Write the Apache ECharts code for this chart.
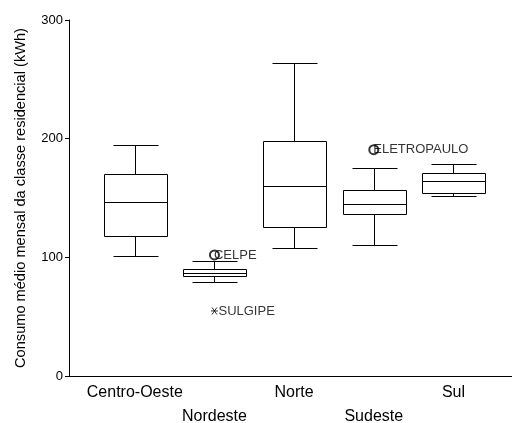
<!DOCTYPE html>
<html>
<head>
<meta charset="utf-8">
<script src="https://cdn.jsdelivr.net/npm/echarts@6/dist/echarts.min.js"></script>
<style>
  html, body { margin: 0; padding: 0; background: #fff; }
  #chart { width: 512px; height: 423px; }
</style>
</head>
<body>
<div id="chart"></div>
<script>
// Regions and their box-plot statistics (kWh)
const regions = ['Centro-Oeste', 'Nordeste', 'Norte', 'Sudeste', 'Sul'];
const lowerWhisker = [100.9, 79.4, 107.9, 110.6, 151.9];
const quartile1 = [117.9, 84.2, 125.6, 136.3, 154.4];
const medians = [146.9, 87.0, 160.1, 144.9, 164.1];
const quartile3 = [170.5, 90.2, 198.0, 156.7, 170.8];
const upperWhisker = [194.9, 96.9, 264.0, 175.5, 178.7];

// Outliers (circle) and extreme values (asterisk)
const outlierNames = ['CELPE', 'ELETROPAULO'];
const outlierRegion = [1, 3];
const outlierValues = [102.0, 190.7];
const extremeNames = ['SULGIPE'];
const extremeRegion = [1];
const extremeValues = [54.8];

const yTicks = [0, 100, 200, 300];

const FONT = '"Liberation Sans", Arial, sans-serif';
const INK = '#000';

const X_MIN = -0.826;
const X_MAX = 4.735;

const boxData = regions.map((r, i) => [i, lowerWhisker[i], quartile1[i], medians[i], quartile3[i], upperWhisker[i]]);

// category labels alternate between two rows under the axis
const upperRowIdx = regions.map((r, i) => i).filter(i => i % 2 === 0);
const lowerRowIdx = regions.map((r, i) => i).filter(i => i % 2 === 1);

function crisp(v) { return Math.round(v) + 0.5; }

function renderBox(params, api) {
  const x = api.value(0);
  const unit = api.size([1, 0])[0];
  const halfBox = unit * 0.4;
  const halfCap = unit * 0.285;
  const cx = crisp(api.coord([x, 0])[0]);
  const yLow = crisp(api.coord([x, api.value(1)])[1]);
  const yQ1 = crisp(api.coord([x, api.value(2)])[1]);
  const yMed = crisp(api.coord([x, api.value(3)])[1]);
  const yQ3 = crisp(api.coord([x, api.value(4)])[1]);
  const yHigh = crisp(api.coord([x, api.value(5)])[1]);
  const left = crisp(cx - halfBox);
  const right = crisp(cx + halfBox);
  const lineStyle = { stroke: INK, lineWidth: 1, fill: null };
  const line = (x1, y1, x2, y2) => ({ type: 'line', shape: { x1, y1, x2, y2 }, style: lineStyle });
  return {
    type: 'group',
    children: [
      { type: 'rect', shape: { x: left, y: yQ3, width: right - left, height: yQ1 - yQ3 }, style: { stroke: INK, lineWidth: 1, fill: '#fff' } },
      line(left, yMed, right, yMed),
      line(cx, yQ3, cx, yHigh),
      line(cx, yQ1, cx, yLow),
      line(crisp(cx - halfCap), yHigh, crisp(cx + halfCap), yHigh),
      line(crisp(cx - halfCap), yLow, crisp(cx + halfCap), yLow)
    ]
  };
}

function categoryAxis(indices, margin, showLine) {
  return {
    type: 'value',
    position: 'bottom',
    min: X_MIN,
    max: X_MAX,
    splitLine: { show: false },
    axisTick: { show: false },
    axisLine: { show: showLine, onZero: false, lineStyle: { color: INK, width: 1 } },
    axisLabel: {
      customValues: indices,
      formatter: (v) => regions[Math.round(v)],
      hideOverlap: false,
      color: INK,
      fontFamily: FONT,
      fontSize: 16,
      margin: margin
    }
  };
}

const chart = echarts.init(document.getElementById('chart'), null, { renderer: 'canvas' });

chart.setOption({
  animation: false,
  backgroundColor: '#fff',
  grid: { left: 69, right: 0, top: 20, bottom: 47, outerBoundsMode: 'none', containLabel: false },
  xAxis: [
    categoryAxis(upperRowIdx, 9, true),
    categoryAxis(lowerRowIdx, 33, false)
  ],
  yAxis: {
    type: 'value',
    min: yTicks[0],
    max: yTicks[yTicks.length - 1],
    interval: 100,
    splitLine: { show: false },
    axisLine: { show: true, onZero: false, lineStyle: { color: INK, width: 1 } },
    axisTick: { show: true, length: 4, lineStyle: { color: INK } },
    axisLabel: { color: INK, fontFamily: FONT, fontSize: 13, margin: 6 },
    name: 'Consumo médio mensal da classe residencial (kWh)',
    nameLocation: 'middle',
    nameGap: 41,
    nameTextStyle: { color: INK, fontFamily: FONT, fontSize: 14.6 }
  },
  series: [
    {
      type: 'custom',
      renderItem: renderBox,
      encode: { x: 0, y: [1, 2, 3, 4, 5] },
      data: boxData,
      z: 2
    },
    {
      type: 'scatter',
      symbol: 'emptyCircle',
      symbolSize: 9,
      itemStyle: { color: INK, borderColor: INK, borderWidth: 0.8 },
      label: {
        show: true,
        position: 'right',
        distance: -6,
        formatter: (p) => p.name,
        color: INK,
        fontFamily: FONT,
        fontSize: 13
      },
      data: outlierNames.map((n, i) => ({ name: n, value: [outlierRegion[i], outlierValues[i]] })),
      z: 3
    },
    {
      type: 'scatter',
      symbol: 'path://M0,5L10,5M1.5,0.5L8.5,9.5M1.5,9.5L8.5,0.5',
      symbolSize: [7, 7],
      itemStyle: { color: 'none', borderColor: INK, borderWidth: 1 },
      label: {
        show: true,
        position: 'right',
        distance: -2,
        formatter: (p) => p.name,
        color: INK,
        fontFamily: FONT,
        fontSize: 13
      },
      data: extremeNames.map((n, i) => ({ name: n, value: [extremeRegion[i], extremeValues[i]] })),
      z: 3
    }
  ]
});
</script>
</body>
</html>
